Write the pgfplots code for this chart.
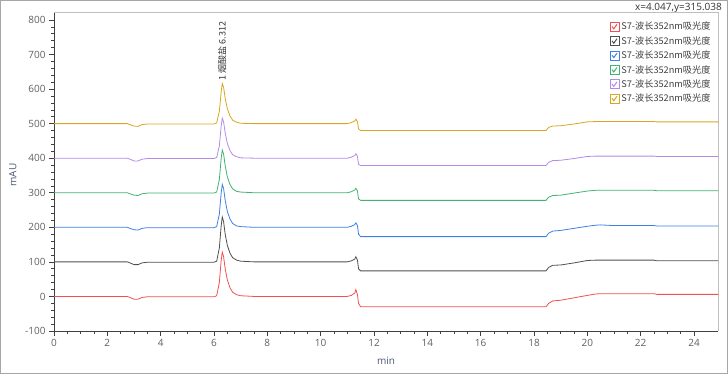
\documentclass[border=0pt]{standalone}
\usepackage{fontspec}
\setmainfont{Open Sans}
\newfontfamily\cjk{Noto Sans CJK SC}
\usepackage{pgfplots}
\usepackage{pgfplotstable}
\pgfplotsset{compat=1.18}
\definecolor{cred}{HTML}{F25050}
\definecolor{cblack}{HTML}{505050}
\definecolor{cblue}{HTML}{3C80E6}
\definecolor{cgreen}{HTML}{40B372}
\definecolor{cpurple}{HTML}{B48AE8}
\definecolor{cgold}{HTML}{D8A620}
\definecolor{txt}{HTML}{606060}
\definecolor{lab}{HTML}{4A5570}
\pgfplotstableread{
x r k b g p o
0 0 100 200 300 400 500
2.75 0 100 200 300 400 500
2.85 -3 97 197 297 397 497
3.0 -8 92 193 293 392 493
3.15 -8 92 192 292 392 492
3.3 -3 97 197 297 397 497
3.5 -1 99 199 299 399 499
6.0 -1 99 199 299 399 499
6.1 2 102 202 302 402 502
6.2 40 140 238 338 435 535
6.27 105 205 300 400 493 593
6.31 128 230 324 424 516 616
6.36 115 216 312 412 505 605
6.42 80 180 278 378 473 573
6.5 48 148 246 346 443 543
6.6 25 125 224 324 422 522
6.7 12 112 211 311 410 510
6.85 5 105 204 304 404 504
7.0 2 102 202 302 401 501
7.5 0 100 200 300 400 500
11.0 0 100 200 300 400 500
11.15 3 103 203 303 403 503
11.28 10 108 208 308 408 508
11.32 20 115 213 313 413 513
11.38 5 105 205 305 405 505
11.42 -20 80 180 282 382 485
11.5 -30 74 173 278 379 480
18.45 -30 74 173 278 379 480
18.55 -20 84 183 287 388 489
18.7 -13 90 189 292 393 493
19.0 -11 91 191 293 394 494
19.5 -4 97 197 299 399 499
20.0 3 104 203 305 405 505
20.3 7 105 206 307 406 506
20.5 8 105 207 307 406 506
21.0 8 105 205 307 406 506
22.5 8 105 205 307 406 506
22.6 6 103 204 306 405 505
24.9 6 103 204 306 405 505
}\data
\begin{document}
\begin{tikzpicture}[x=1pt,y=1pt]
\useasboundingbox (0,0) rectangle (728,374);
\draw[color=black!35, line width=1pt] (0.5,0.5) rectangle (727.5,373.5);
\node[anchor=north east, font=\fontsize{10}{12}\selectfont, text=black!80, inner sep=0pt] at (722,371) {x=4.047,y=315.038};
\begin{axis}[
  at={(54pt,43pt)}, anchor=south west,
  scale only axis, width=664pt, height=319pt,
  xmin=0, xmax=24.9, ymin=-100, ymax=823,
  axis x line*=bottom, axis y line*=left,
  axis line style={color=black!75, line width=0.8pt},
  xtick={0,2,...,24}, ytick={-100,0,...,800},
  minor x tick num=3, minor y tick num=4,
  tick align=outside,
  major tick length=5pt, minor tick length=3pt,
  tick style={color=black!75, line width=0.6pt},
  ticklabel style={font=\fontsize{10}{12}\selectfont, text=txt},
  /pgf/number format/assume math mode=true,
  xlabel={min}, ylabel={mAU},
  label style={font=\fontsize{10}{12}\selectfont, text=lab},
  xlabel style={yshift=-3pt},
  ylabel style={at={(rel axis cs:-0.062,0.489)}, anchor=center},
  legend cell align=left,
  legend style={draw=none, fill=none, at={(rel axis cs:0.835,0.978)}, anchor=north west,
    font=\cjk\fontsize{9.2}{11}\selectfont, text=black!75, row sep=1.1pt, inner sep=1pt},
  legend image code/.code={
    \draw[#1, solid, fill=white, line width=0.7pt] (0pt,-4.5pt) rectangle (9pt,4.5pt);
    \draw[#1, solid, line width=1pt] (2pt,0.3pt) -- (3.8pt,-2pt) -- (7pt,2.5pt);
  },
  clip=false,
]
\draw[color=black!25, line width=0.8pt] (rel axis cs:0,1) -- (rel axis cs:1,1) -- (rel axis cs:1,0);
\addplot[cred, line width=0.8pt] table[x=x,y=r]{\data};
\addlegendentry{S7-波长352nm吸光度}
\addplot[cblack, line width=0.8pt] table[x=x,y=k]{\data};
\addlegendentry{S7-波长352nm吸光度}
\addplot[cblue, line width=0.8pt] table[x=x,y=b]{\data};
\addlegendentry{S7-波长352nm吸光度}
\addplot[cgreen, line width=0.8pt] table[x=x,y=g]{\data};
\addlegendentry{S7-波长352nm吸光度}
\addplot[cpurple, line width=0.8pt] table[x=x,y=p]{\data};
\addlegendentry{S7-波长352nm吸光度}
\addplot[cgold, line width=0.8pt] table[x=x,y=o]{\data};
\addlegendentry{S7-波长352nm吸光度}
\node[rotate=90, anchor=west, font=\cjk\fontsize{9}{11}\selectfont, text=black!80, inner sep=1pt] at (axis cs:6.312,622) {1 烟酸盐 6.312};
\end{axis}
\end{tikzpicture}
\end{document}
